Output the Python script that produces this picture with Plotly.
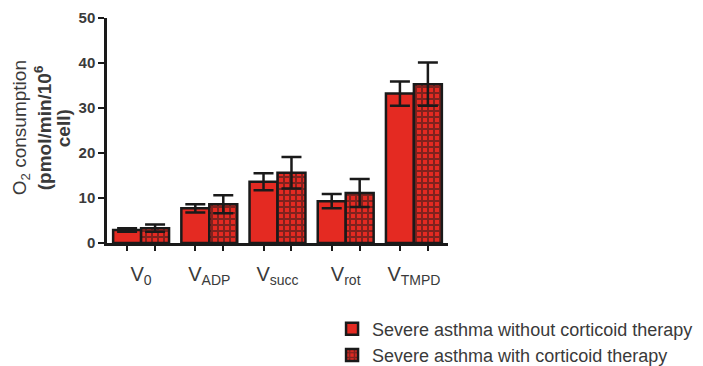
import plotly.graph_objects as go

categories = ["V<sub>0</sub>", "V<sub>ADP</sub>", "V<sub>succ</sub>", "V<sub>rot</sub>", "V<sub>TMPD</sub>"]
without_mean = [2.9, 7.7, 13.6, 9.3, 33.2]
without_err = [0.4, 0.9, 1.9, 1.6, 2.7]
with_mean = [3.3, 8.6, 15.6, 11.1, 35.3]
with_err = [0.8, 2.0, 3.5, 3.1, 4.8]
series_names = ["Severe asthma without corticoid therapy", "Severe asthma with corticoid therapy"]
y_ticks = [0, 10, 20, 30, 40, 50]
y_title_lines = ["O<sub>2</sub> consumption", "<b>(pmol/min/10<sup>6</sup></b>", "<b>cell)</b>"]

RED = "#e42a22"
INK = "#1a1a1a"
FONT = "Liberation Sans, Arial, sans-serif"
TEXT = "#3a3a3a"

W, H = 703, 366
M_L, M_R, M_T, M_B = 107, 255, 18, 123
plot_w = W - M_L - M_R

positions = list(range(len(categories)))
bargap = 0.18
half = (1 - bargap) / 4

fig = go.Figure()
fig.add_trace(go.Bar(
    x=positions, y=without_mean, name=series_names[0],
    marker=dict(color=RED, line=dict(color=INK, width=2.5)),
    error_y=dict(type="data", array=without_err, color=INK, thickness=2.5, width=10),
))
fig.add_trace(go.Bar(
    x=positions, y=with_mean, name=series_names[1],
    marker=dict(color=RED, line=dict(color=INK, width=2.5),
                pattern=dict(shape="+", fgcolor=INK, bgcolor=RED, size=6, solidity=0.55)),
    error_y=dict(type="data", array=with_err, color=INK, thickness=2.5, width=10),
))

# per-bar tick marks drawn on an overlaid axis
bar_ticks = []
for p in positions:
    bar_ticks += [p - half, p + half]
fig.add_trace(go.Scatter(x=bar_ticks, y=[None] * len(bar_ticks), xaxis="x2",
                         showlegend=False, hoverinfo="skip"))

# three-line rotated y-axis title, one annotation per line
title_x_px = [21, 43, 63]
for line, px in zip(y_title_lines, title_x_px):
    fig.add_annotation(text=line, textangle=-90, xref="paper", yref="paper",
                       x=(px - M_L) / plot_w, y=0.51, xanchor="center", yanchor="middle",
                       showarrow=False, font=dict(size=19, color=TEXT, family=FONT))

fig.update_layout(
    width=W, height=H,
    margin=dict(l=M_L, r=M_R, t=M_T, b=M_B, autoexpand=False),
    paper_bgcolor="white", plot_bgcolor="white",
    barmode="group", bargap=bargap, bargroupgap=0,
    font=dict(family=FONT, color=TEXT),
    showlegend=True,
    legend=dict(x=0.66, y=-0.30, xanchor="left", yanchor="top",
                font=dict(size=18, color=TEXT), tracegroupgap=0,
                itemwidth=30, bgcolor="rgba(0,0,0,0)"),
    xaxis=dict(range=[-0.5, 4.5], tickvals=positions, ticktext=categories,
               showline=True, linecolor=INK, linewidth=2.5,
               ticks="", tickfont=dict(size=20, color=TEXT), ticklabelstandoff=11,
               showgrid=False, zeroline=False),
    xaxis2=dict(range=[-0.5, 4.5], overlaying="x", anchor="y",
                tickvals=bar_ticks, showticklabels=False, ticks="outside",
                ticklen=7, tickwidth=2, tickcolor=INK, showline=False,
                showgrid=False, zeroline=False, side="bottom"),
    yaxis=dict(range=[0, 50], tickvals=y_ticks, showline=True,
               linecolor=INK, linewidth=2.5, ticks="outside", ticklen=6,
               tickwidth=2, tickcolor=INK,
               tickfont=dict(size=15, color=TEXT, weight="bold"),
               showgrid=False, zeroline=False),
)

fig.write_html("out.html")
